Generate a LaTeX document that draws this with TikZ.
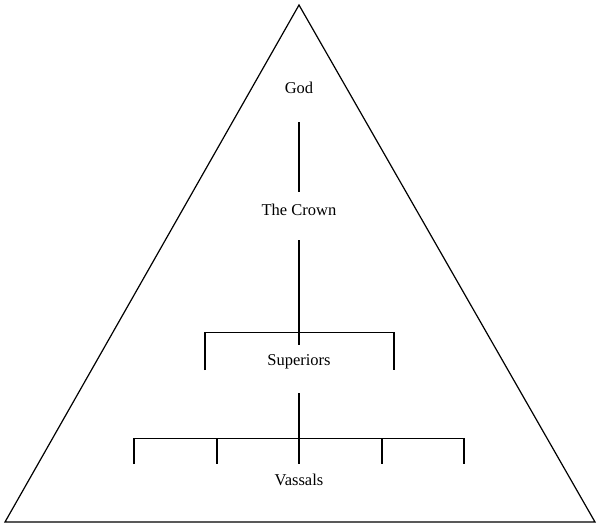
\documentclass[tikz,border=0pt]{standalone}
\usepackage{fontspec}
\setmainfont{Liberation Serif}
\begin{document}
\begin{tikzpicture}[x=1pt,y=-1pt,
    rank/.style={font=\fontsize{16.5}{19}\selectfont},
    link/.style={draw=black, line width=1.2pt},
]
\useasboundingbox (0,0) rectangle (600,528);
 %Pyramid
\draw[line width=1.2pt] (299,5) -- (595,522) -- (5,522) -- cycle;
 %Ranks
\node[rank] (god) at (299,88) {God};
\node[rank] (crown) at (299,210) {The Crown};
\node[rank] (sup) at (299,362) {Superiors};
\node[rank] (vas) at (299,480) {Vassals};
 %God to Crown
\draw[link] ([yshift=-34pt]god.center) -- ([yshift=18pt]crown.center);
 %Crown to Superiors
\coordinate (supbar) at (299,332.5);
\draw[link] ([yshift=-30pt]crown.center) -- ([yshift=17pt]sup.center);
\draw[link] (205,370) |- (supbar) -| (394,370);
 %Superiors to Vassals
\coordinate (vasbar) at (299,438.5);
\draw[link] ([yshift=-31pt]sup.center) -- ([yshift=16pt]vas.center);
\draw[link] (134,464) |- (vasbar) -| (464,464);
\foreach \x in {217,382}
    \draw[link] (\x,438) -- (\x,464);
\end{tikzpicture}
\end{document}
